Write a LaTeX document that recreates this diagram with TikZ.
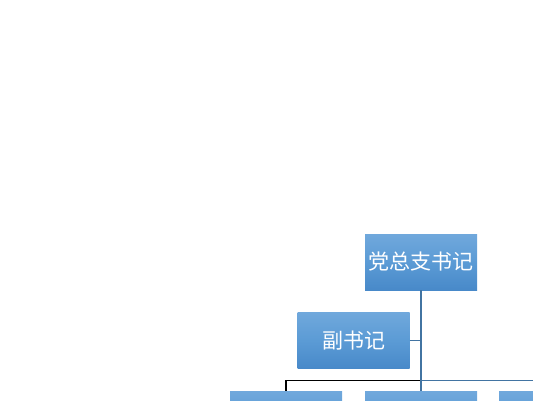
\documentclass[tikz,border=0pt]{standalone}
\usepackage{fontspec}
\usepackage{tikz}
\usepackage{xcolor}
\newfontfamily\cjk{Noto Sans CJK SC}
\definecolor{boxtop}{RGB}{112,168,220}
\definecolor{boxmid}{RGB}{91,155,213}
\definecolor{boxbot}{RGB}{72,137,201}
\definecolor{linkblue}{RGB}{66,116,162}

\begin{document}
\begin{tikzpicture}[x=1pt,y=-1pt,
  every node/.style={rectangle,minimum width=112pt,minimum height=56pt,inner sep=0pt,
    top color=boxtop,bottom color=boxbot,middle color=boxmid,text=white,
    font=\cjk\fontsize{21}{25}\selectfont},
  bluelink/.style={draw=linkblue,line width=1.6pt},
  blacklink/.style={draw=black,line width=1.2pt}]
\clip (0,0) rectangle (533,400);
\node (secy) at (421,262) {党总支书记};
\node (deputy) at (353.5,340.5) {副书记};
\node (lbox) at (286,419) {};
\node (mbox) at (421,419) {};
\node (rbox) at (555,419) {};
\coordinate (bus) at (421,380.5);
% links
\draw[blacklink] (bus) -| (lbox.north);
\draw[bluelink] (bus) -| (rbox.north);
\draw[bluelink,line width=1pt] (deputy.east) -- (deputy.east -| secy.south);
\draw[bluelink] (secy.south) -- (mbox.north);
\end{tikzpicture}
\end{document}
